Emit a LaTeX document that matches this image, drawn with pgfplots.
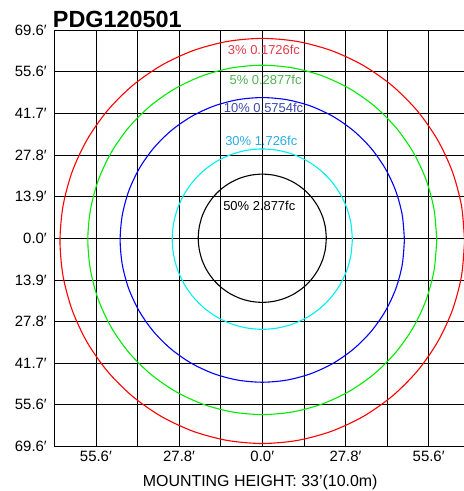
\documentclass[border=0pt]{standalone}
\usepackage{fontspec}
\setmainfont{Liberation Sans}
\usepackage{pgfplots}
\pgfplotsset{compat=1.18}
\definecolor{lab3}{RGB}{228,58,72}
\definecolor{lab5}{RGB}{78,178,78}
\definecolor{lab10}{RGB}{60,72,170}
\definecolor{lab30}{RGB}{40,172,228}
\definecolor{cRed}{RGB}{255,0,0}
\definecolor{cGreen}{RGB}{0,235,0}
\definecolor{cBlue}{RGB}{0,0,255}
\definecolor{cCyan}{RGB}{0,240,240}
\begin{document}
\begin{tikzpicture}
\useasboundingbox (-54.3bp,-44.5bp) rectangle (409.7bp,446.5bp);
\begin{axis}[
  scale only axis,
  width=409.7bp, height=416.5bp,
  xmin=-69.5, xmax=67.41, ymin=-69.5, ymax=69.5,
  axis line style={draw=none},
  major tick length=0pt,
  grid=major,
  major grid style={black, line width=0.75bp},
  xtick={-69.5,-55.6,-41.7,-27.8,-13.9,0,13.9,27.8,41.7,55.6},
  xticklabels={,55.6′,,27.8′,,0.0′,,27.8′,,55.6′},
  ytick={-69.5,-55.6,-41.7,-27.8,-13.9,0,13.9,27.8,41.7,55.6,69.5},
  yticklabels={69.6′,55.6′,41.7′,27.8′,13.9′,0.0′,13.9′,27.8′,41.7′,55.6′,69.6′},
  tick label style={font=\fontsize{15}{18}\selectfont},
  yticklabel style={xshift=-4bp},
  xticklabel style={yshift=-1bp},
  every axis plot/.append style={line width=1.1bp, smooth, tension=0.5, mark=none},
]
% 3% red
\addplot[cRed] coordinates {
(67.6,-0.9)(66.57,10.84)(63.52,22.22)(58.54,32.9)(51.78,42.55)(43.45,50.88)(33.8,57.64)(23.12,62.62)(11.74,65.67)
(0,66.7)(-11.74,65.67)(-23.12,62.62)(-33.8,57.64)(-43.45,50.88)(-51.78,42.55)(-58.54,32.9)(-63.52,22.22)(-66.57,10.84)
(-67.6,-0.9)(-66.57,-12.64)(-63.52,-24.02)(-58.54,-34.7)(-51.78,-44.35)(-43.45,-52.68)(-33.8,-59.44)(-23.12,-64.42)(-11.74,-67.47)
(0,-68.5)(11.74,-67.47)(23.12,-64.42)(33.8,-59.44)(43.45,-52.68)(51.78,-44.35)(58.54,-34.7)(63.52,-24.02)(66.57,-12.64)(67.6,-0.9)};
% 5% green
\addplot[cGreen] coordinates {
(58.3,-0.55)(57.41,9.57)(54.79,19.39)(50.49,28.6)(44.66,36.93)(37.48,44.11)(29.15,49.94)(19.94,54.24)(10.12,56.86)
(0,57.75)(-10.12,56.86)(-19.94,54.24)(-29.15,49.94)(-37.48,44.11)(-44.66,36.93)(-50.49,28.6)(-54.79,19.39)(-57.41,9.57)
(-58.3,-0.55)(-57.41,-10.67)(-54.79,-20.49)(-50.49,-29.7)(-44.66,-38.03)(-37.48,-45.21)(-29.15,-51.04)(-19.94,-55.34)(-10.12,-57.96)
(0,-58.85)(10.12,-57.96)(19.94,-55.34)(29.15,-51.04)(37.48,-45.21)(44.66,-38.03)(50.49,-29.7)(54.79,-20.49)(57.41,-10.67)(58.3,-0.55)};
% 10% blue
\addplot[cBlue] coordinates {
(47.5,-0.55)(46.78,7.7)(44.64,15.7)(41.14,23.2)(36.39,29.98)(30.53,35.84)(23.75,40.59)(16.25,44.09)(8.25,46.23)
(0,46.95)(-8.25,46.23)(-16.25,44.09)(-23.75,40.59)(-30.53,35.84)(-36.39,29.98)(-41.14,23.2)(-44.64,15.7)(-46.78,7.7)
(-47.5,-0.55)(-46.78,-8.8)(-44.64,-16.8)(-41.14,-24.3)(-36.39,-31.08)(-30.53,-36.94)(-23.75,-41.69)(-16.25,-45.19)(-8.25,-47.33)
(0,-48.05)(8.25,-47.33)(16.25,-45.19)(23.75,-41.69)(30.53,-36.94)(36.39,-31.08)(41.14,-24.3)(44.64,-16.8)(46.78,-8.8)(47.5,-0.55)};
% 30% cyan
\addplot[cCyan] coordinates {
(30.1,-0.3)(29.64,4.93)(28.29,9.99)(26.07,14.75)(23.06,19.05)(19.35,22.76)(15.05,25.77)(10.29,27.99)(5.23,29.34)
(0,29.8)(-5.23,29.34)(-10.29,27.99)(-15.05,25.77)(-19.35,22.76)(-23.06,19.05)(-26.07,14.75)(-28.29,9.99)(-29.64,4.93)
(-30.1,-0.3)(-29.64,-5.53)(-28.29,-10.59)(-26.07,-15.35)(-23.06,-19.65)(-19.35,-23.36)(-15.05,-26.37)(-10.29,-28.59)(-5.23,-29.94)
(0,-30.4)(5.23,-29.94)(10.29,-28.59)(15.05,-26.37)(19.35,-23.36)(23.06,-19.65)(26.07,-15.35)(28.29,-10.59)(29.64,-5.53)(30.1,-0.3)};
% 50% black
\addplot[black] coordinates {
(21.4,0)(21.07,3.72)(20.11,7.32)(18.53,10.7)(16.39,13.76)(13.76,16.39)(10.7,18.53)(7.32,20.11)(3.72,21.07)
(0,21.4)(-3.72,21.07)(-7.32,20.11)(-10.7,18.53)(-13.76,16.39)(-16.39,13.76)(-18.53,10.7)(-20.11,7.32)(-21.07,3.72)
(-21.4,0)(-21.07,-3.72)(-20.11,-7.32)(-18.53,-10.7)(-16.39,-13.76)(-13.76,-16.39)(-10.7,-18.53)(-7.32,-20.11)(-3.72,-21.07)
(0,-21.4)(3.72,-21.07)(7.32,-20.11)(10.7,-18.53)(13.76,-16.39)(16.39,-13.76)(18.53,-10.7)(20.11,-7.32)(21.07,-3.72)(21.4,0)};
\node[anchor=base, inner sep=0pt, text=lab3, font=\fontsize{13}{15}\selectfont] at (axis cs:0.57,61.4) {3\% 0.1726fc};
\node[anchor=base, inner sep=0pt, text=lab5, font=\fontsize{13}{15}\selectfont] at (axis cs:1.1,51.16) {5\% 0.2877fc};
\node[anchor=base, inner sep=0pt, text=lab10, font=\fontsize{13}{15}\selectfont] at (axis cs:0.43,41.92) {10\% 0.5754fc};
\node[anchor=base, inner sep=0pt, text=lab30, font=\fontsize{13}{15}\selectfont] at (axis cs:-0.33,30.9) {30\% 1.726fc};
\node[anchor=base, inner sep=0pt, text=black, font=\fontsize{13}{15}\selectfont] at (axis cs:-1.0,9.2) {50\% 2.877fc};
\coordinate (tl) at (axis cs:-69.5,69.5);
\coordinate (bc) at (axis cs:-0.7,-69.5);
\end{axis}
\node[anchor=base west, inner sep=0pt, font=\fontsize{23.5}{26}\selectfont\bfseries] at ([xshift=-1.6bp,yshift=2.7bp]tl) {PDG120501};
\node[anchor=base, inner sep=0pt, font=\fontsize{16}{19}\selectfont] at ([yshift=-40bp]bc) {MOUNTING HEIGHT: 33’(10.0m)};
\end{tikzpicture}
\end{document}
